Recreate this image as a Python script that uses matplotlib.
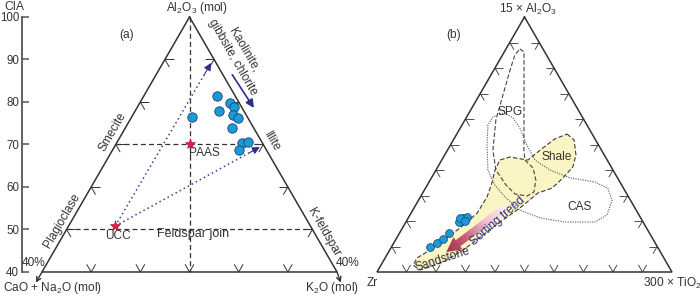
import numpy as np
import matplotlib
matplotlib.use("Agg")
import matplotlib.pyplot as plt
from matplotlib.patches import Polygon
from matplotlib.colors import LinearSegmentedColormap

plt.rcParams["font.family"] = ["Liberation Sans", "DejaVu Sans"]
plt.rcParams["mathtext.fontset"] = "custom"
plt.rcParams["mathtext.rm"] = "Liberation Sans"
plt.rcParams["mathtext.it"] = "Liberation Sans:italic"

# ---- panel (a): A-CN-K (molar %), CIA = A
sample_A = [76.5, 81.4, 77.9, 79.8, 78.8, 76.9, 76.2, 73.9, 70.4, 70.6, 68.7]
sample_K = [12.3, 14.9, 17.0, 18.4, 19.6, 20.4, 21.7, 21.7, 25.5, 26.6, 25.7]
paas_AK = (70.0, 15.0)
ucc_AK = (50.8, 9.5)
trend_ends_AK = [(89.2, 9.8), (69.4, 29.6)]
kaolinite_arrow_AK = [(86.4, 15.5), (78.6, 23.8)]
cia_ticks = [40, 50, 60, 70, 80, 90, 100]

# ---- panel (b): 15Al2O3 - Zr - 300TiO2 (%)
zr_Al = [9.8, 11.4, 12.9, 15.3, 19.6, 21.2, 21.6, 21.2, 20.0]
zr_Ti = [13.1, 14.6, 15.9, 16.8, 18.0, 18.6, 19.7, 17.5, 19.8]

spg_Al = [87.5, 86.3, 67.5, 47.8, 43.9, 40.8, 36.1, 31.4, 29.8, 30.6, 34.1,
          40.0, 47.8, 59.6, 69.4, 79.2, 85.1]
spg_Ti = [4.7, 6.7, 16.1, 25.9, 28.2, 32.5, 35.8, 37.5, 36.0, 31.5, 26.7,
          20.3, 15.4, 10.5, 8.0, 5.5, 4.2]

cas_Al = [62.0, 60.8, 57.6, 49.8, 40.0, 34.1, 29.4, 24.3, 21.2, 19.6, 19.6,
          22.4, 28.2, 32.9, 35.3, 36.9, 40.0, 43.9, 49.8, 56.5, 60.4, 62.4]
cas_Ti = [10.7, 8.9, 8.8, 12.4, 17.6, 22.9, 28.7, 36.3, 44.7, 53.9, 64.1,
          66.8, 65.6, 61.8, 56.2, 47.0, 38.6, 31.6, 25.9, 20.2, 15.9, 12.2]

shale_Al = [54.1, 51.8, 45.9, 41.2, 36.9, 32.9, 31.0, 25.1, 19.6, 14.5, 8.6,
            3.9, 2.0, 0.8, 2.7, 5.5, 8.6, 17.3, 23.1, 29.4, 34.9, 40.0,
            43.9, 45.1, 43.9, 47.8, 52.2]
shale_Ti = [37.4, 40.9, 44.5, 45.8, 44.6, 42.9, 39.1, 35.9, 31.9, 28.7, 24.9,
            20.4, 17.0, 14.2, 10.9, 10.8, 13.7, 19.5, 22.4, 22.6, 21.5, 20.0,
            19.7, 22.5, 29.2, 31.4, 34.2]

sorting_AlTi = [(25.1, 30.7), (7.8, 19.6)]

INK = "#333333"
BLUE_FACE = "#1b9ad8"
BLUE_EDGE = "#1d3f6e"
NAVY = "#2e2e8c"


def tern(top, right):
    top = np.asarray(top, dtype=float)
    right = np.asarray(right, dtype=float)
    return right + top / 2.0, top


def tick_marks(ax, pts_arms, lw=0.7):
    for p, arms in pts_arms:
        for q in arms:
            ax.plot([p[0], q[0]], [p[1], q[1]], color=INK, lw=lw,
                    solid_capstyle="butt")


fig = plt.figure(figsize=(7.0, 2.96), dpi=100)

# ================= panel (a)
ax = fig.add_axes([0, 0, 0.5, 1])
ax.set_xlim(11.46, 82.64)
ax.set_ylim(34.35, 104.0)
for s in ["top", "right", "bottom"]:
    ax.spines[s].set_visible(False)
ax.spines["left"].set_position(("data", 15.93))
ax.spines["left"].set_bounds(40, 100)
ax.spines["left"].set_color("#555555")
ax.spines["left"].set_linewidth(1.3)
ax.set_yticks(cia_ticks)
ax.tick_params(axis="y", direction="in", length=5, width=1.1,
               color="#555555", labelsize=8.3, labelcolor=INK, pad=2)
ax.set_xticks([])
ax.patch.set_visible(False)

# triangle
tx, ty = tern([100, 40, 40, 100], [0, 0, 60, 0])
ax.plot(tx, ty, color=INK, lw=1.1, solid_joinstyle="miter")
for right in (0, 62):
    s = tern(40, right if right == 0 else 60)
    e = tern(37.5, right)
    ax.annotate("", xy=e, xytext=s,
                arrowprops=dict(arrowstyle="->", color=INK, lw=1.0,
                                shrinkA=0, shrinkB=0, mutation_scale=8))

# ternary ticks
t = 1.8
arms = []
for v in [50, 60, 70, 80, 90]:
    arms.append((tern(v, 0), [tern(v, t), tern(v - t, t)]))
    arms.append((tern(v, 100 - v), [tern(v, 100 - v - t), tern(v - t, 100 - v)]))
for kb in [10, 20, 30, 40, 50]:
    arms.append((tern(40, kb), [tern(40 + t, kb - t), tern(40 + t, kb)]))
tick_marks(ax, arms)

# dashed guide lines
dash = dict(color=INK, lw=0.9, dashes=(4, 2.5))
ax.plot(*tern([100, 40], [0, 30]), **dash)
ax.plot(*tern([70, 70], [0, 30]), **dash)
ax.plot(*tern([50, 50], [0, 50]), **dash)

# weathering trends from UCC
ucc = tern(*ucc_AK)
for end in trend_ends_AK:
    e = np.array(tern(*end))
    s = np.array(ucc)
    near = s + (e - s) * 0.93
    ax.plot([s[0], near[0]], [s[1], near[1]], color="#3b3b9a", lw=1.1,
            linestyle=(0, (1, 2)))
    ax.annotate("", xy=e, xytext=near,
                arrowprops=dict(arrowstyle="-|>", color=NAVY, lw=0.8,
                                shrinkA=0, shrinkB=0, mutation_scale=11))

ka0, ka1 = kaolinite_arrow_AK
ax.annotate("", xy=tern(*ka1), xytext=tern(*ka0),
            arrowprops=dict(arrowstyle="-|>", color=NAVY, lw=1.2,
                            shrinkA=0, shrinkB=0, mutation_scale=12))

sx, sy = tern(sample_A, sample_K)
ax.scatter(sx, sy, s=46, c=BLUE_FACE, edgecolors=BLUE_EDGE, linewidths=0.6,
           zorder=5)
for ref in (paas_AK, ucc_AK):
    ax.plot(*tern(*ref), marker="*", ms=8, color="#e8194e",
            markeredgecolor="#a01030", markeredgewidth=0.4, zorder=6)

txt = dict(color=INK, fontsize=8.6, ha="center", va="center",
           rotation_mode="anchor")
ax.text(14.31, 102.4, "CIA", **txt)
ax.text(51.5, 102.2, "Al$_2$O$_3$ (mol)", **txt)
ax.text(37.3, 95.8, "(a)", **txt)
ax.text(61.1, 92.2, "Kaolinite,", rotation=-60, **txt)
ax.text(58.85, 90.6, "gibbsite, chlorite", rotation=-60, **txt)
ax.text(66.8, 70.6, "Illite", rotation=-60, **txt)
ax.text(34.4, 72.9, "Smecite", rotation=60, **txt)
ax.text(24.1, 52.0, "Plagioclase", rotation=60, **txt)
ax.text(77.35, 49.4, "K-feldspar", rotation=-60, **txt)
ax.text(50.7, 48.9, "Feldspar join", **{**txt, "fontsize": 9})
ax.text(35.5, 48.5, "UCC", **txt)
ax.text(53.1, 68.0, "PAAS", **txt)
ax.text(18.2, 42.1, "40%", **txt)
ax.text(82.2, 42.1, "40%", **txt)
ax.text(12.07, 36.2, "CaO + Na$_2$O (mol)", color=INK, fontsize=8.6,
        ha="left", va="center")
ax.text(79.0, 36.2, "K$_2$O (mol)", **txt)

# ================= panel (b)
bx = fig.add_axes([0.5, 0, 0.5, 1])
bx.set_xlim(-9.15, 109.5)
bx.set_ylim(-9.41, 106.67)
bx.axis("off")

tx, ty = tern([100, 0, 0, 100], [0, 0, 100, 0])
bx.plot(tx, ty, color=INK, lw=1.1, solid_joinstyle="miter", zorder=4)

t = 2.8
arms = []
for v in range(10, 100, 10):
    arms.append((tern(v, 0), [tern(v, t), tern(v - t, t)]))
    arms.append((tern(v, 100 - v), [tern(v, 100 - v - t), tern(v - t, 100 - v)]))
    arms.append((tern(0, v), [tern(t, v - t), tern(t, v)]))
tick_marks(bx, arms, lw=0.6)

fx, fy = tern(shale_Al, shale_Ti)
bx.add_patch(Polygon(np.column_stack([fx, fy]), closed=True,
                     facecolor="#fbf4c4", edgecolor="#3a3a3a", lw=0.8,
                     linestyle=(0, (4, 2)), zorder=1))
fx, fy = tern(spg_Al, spg_Ti)
bx.add_patch(Polygon(np.column_stack([fx, fy]), closed=True,
                     facecolor="none", edgecolor="#444444", lw=0.8,
                     linestyle=(0, (4, 2)), zorder=2))
fx, fy = tern(cas_Al, cas_Ti)
bx.add_patch(Polygon(np.column_stack([fx, fy]), closed=True,
                     facecolor="none", edgecolor="#555555", lw=0.8,
                     linestyle=(0, (1, 1.2)), zorder=2))

# sorting-trend arrow with gradient (built in true ternary geometry)
h = np.sqrt(3) / 2
p0 = np.array(tern(*sorting_AlTi[0]), dtype=float)
p1 = np.array(tern(*sorting_AlTi[1]), dtype=float)
p0[1] *= h
p1[1] *= h
d = p1 - p0
L = np.hypot(*d)
u = d / L
n = np.array([-u[1], u[0]])
shaft_w, head_w, head_l = 2.6, 5.2, 5.0
base = p1 - u * head_l
poly = np.array([p0 + n * shaft_w / 2, base + n * shaft_w / 2,
                 base + n * head_w / 2, p1, base - n * head_w / 2,
                 base - n * shaft_w / 2, p0 - n * shaft_w / 2])
poly[:, 1] /= h
arrow_patch = Polygon(poly, closed=True, facecolor="none", edgecolor="none")
bx.add_patch(arrow_patch)
x0, x1 = poly[:, 0].min(), poly[:, 0].max()
y0, y1 = poly[:, 1].min(), poly[:, 1].max()
gx, gy = np.meshgrid(np.linspace(x0, x1, 200), np.linspace(y0, y1, 200))
proj = ((gx - p0[0]) * u[0] + (gy * h - p0[1]) * u[1]) / L
cmap = LinearSegmentedColormap.from_list(
    "sort", ["#fbeef2", "#eebfcd", "#c8617a", "#a3304a"])
im = bx.imshow(np.clip(proj, 0, 1), extent=[x0, x1, y0, y1], origin="lower",
               cmap=cmap, aspect="auto", zorder=3, interpolation="bilinear")
im.set_clip_path(arrow_patch)
bx.set_xlim(-9.15, 109.5)
bx.set_ylim(-9.41, 106.67)

zx, zy = tern(zr_Al, zr_Ti)
bx.scatter(zx, zy, s=32, c=BLUE_FACE, edgecolors=BLUE_EDGE, linewidths=0.5,
           zorder=5)

bx.text(51.2, 102.9, "15 × Al$_2$O$_3$", **txt)
bx.text(25.8, 92.9, "(b)", **txt)
bx.text(45.1, 62.7, "SPG", **txt)
bx.text(61.0, 45.1, "Shale", **txt)
bx.text(68.8, 25.5, "CAS", **txt)
bx.text(22.4, 5.1, "Sandstone", rotation=18, **txt)
bx.text(41.0, 19.8, "Sorting trend", rotation=41,
        **{**txt, "color": NAVY})
bx.text(-1.7, -4.3, "Zr", **txt)
bx.text(100.0, -4.3, "300 × TiO$_2$", **txt)

fig.savefig("out.png", dpi=100)
